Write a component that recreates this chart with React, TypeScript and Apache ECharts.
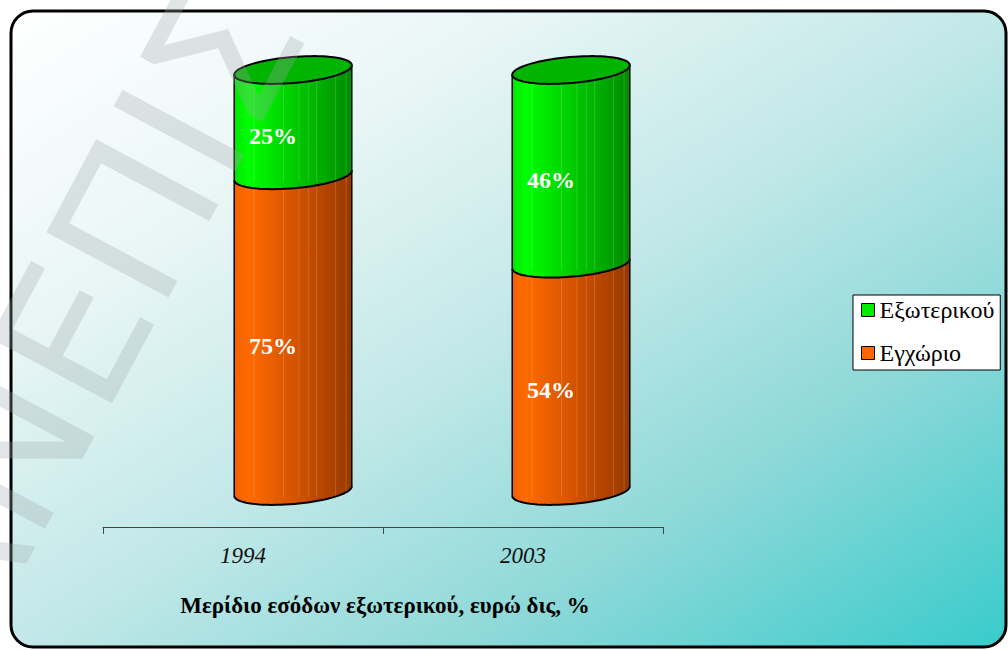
import React, { useEffect, useRef } from "react";
import * as echarts from "echarts";

const categories = ["1994", "2003"];
const foreignShare = [25, 46]; // Εξωτερικού
const domesticShare = [75, 54]; // Εγχώριο
const seriesNames = ["Εξωτερικού", "Εγχώριο"];
const chartTitle = "Μερίδιο εσόδων εξωτερικού, ευρώ δις, %";
const watermark = "ΠΑΝΕΠΙΣΤΗΜΙΟ";

const SERIF = "'Liberation Serif', 'Times New Roman', serif";

function makeRender(isTop: boolean, stops: any[], capColor: string) {
  return (params: any, api: any) => {
    const idx = api.value(0);
    const s = api.value(1);
    const e = api.value(2);
    const [cx, yb] = api.coord([idx, s]);
    const [, yt] = api.coord([idx, e]);
    const rx = 59;
    const ry = 13;
    const phi = 0.085;
    const pt = (cy: number, t: number) => [
      cx + rx * Math.cos(t) * Math.cos(phi) + ry * Math.sin(t) * Math.sin(phi),
      cy - rx * Math.cos(t) * Math.sin(phi) + ry * Math.sin(t) * Math.cos(phi),
    ];
    const N = 40;
    const upperTop: number[][] = [];
    for (let i = 0; i <= N; i++) upperTop.push(pt(yt, Math.PI + (Math.PI * i) / N));
    const lowerBot: number[][] = [];
    for (let i = 0; i <= N; i++) lowerBot.push(pt(yb, (Math.PI * i) / N));
    const body = upperTop.concat(lowerBot);
    const children: any[] = [];
    children.push({
      type: "polygon",
      shape: { points: body },
      style: { fill: new echarts.graphic.LinearGradient(0, 0, 1, 0, stops), stroke: "none" },
    });
    const facets = [0.17, 0.42, 0.55, 0.63, 0.7, 0.86, 0.95];
    facets.forEach((f) => {
      const x = cx - rx + 2 * rx * f;
      children.push({
        type: "line",
        shape: { x1: x, y1: yt + 2, x2: x, y2: yb + 6 },
        style: { stroke: "rgba(255,255,255,0.16)", lineWidth: 1 },
      });
    });
    const lt = pt(yt, Math.PI);
    const lb = pt(yb, Math.PI);
    const rt = pt(yt, 0);
    const rb = pt(yb, 0);
    children.push({
      type: "polyline",
      shape: { points: [lt, lb] },
      style: { stroke: "#000", lineWidth: 1.5, fill: "none" },
    });
    children.push({
      type: "polyline",
      shape: { points: [rt, rb] },
      style: { stroke: "#000", lineWidth: 1.5, fill: "none" },
    });
    children.push({
      type: "polyline",
      shape: { points: lowerBot },
      style: { stroke: "#000", lineWidth: 2, fill: "none" },
    });
    if (isTop) {
      const cap: number[][] = [];
      for (let i = 0; i < 2 * N; i++) cap.push(pt(yt, (2 * Math.PI * i) / (2 * N)));
      children.push({
        type: "polygon",
        shape: { points: cap },
        style: { fill: capColor, stroke: "#000", lineWidth: 2 },
      });
    }
    children.push({
      type: "text",
      x: cx - 20,
      y: (yt + yb) / 2 + 13,
      style: {
        text: Math.round(e - s) + "%",
        fill: "#ffffff",
        font: "bold 24px " + SERIF,
        textAlign: "center",
        textVerticalAlign: "middle",
      },
    });
    return { type: "group", children };
  };
}

export default function App() {
  const ref = useRef<HTMLDivElement>(null);
  useEffect(() => {
    if (!ref.current) return;
    const chart = echarts.init(ref.current, null, { renderer: "svg" });
    const domesticData = categories.map((_, i) => [i, 0, domesticShare[i]]);
    const foreignData = categories.map((_, i) => [
      i,
      domesticShare[i],
      domesticShare[i] + foreignShare[i],
    ]);
    const orangeStops = [
      { offset: 0, color: "#f26200" },
      { offset: 0.12, color: "#ff6a00" },
      { offset: 0.5, color: "#d65400" },
      { offset: 1, color: "#973800" },
    ];
    const greenStops = [
      { offset: 0, color: "#00e600" },
      { offset: 0.12, color: "#00ff00" },
      { offset: 0.5, color: "#00cc00" },
      { offset: 1, color: "#008c00" },
    ];
    chart.setOption({
      animation: false,
      backgroundColor: "#ffffff",
      graphic: [
        {
          type: "rect",
          z: -10,
          silent: true,
          shape: { x: 11, y: 11, width: 995, height: 636, r: 22 },
          style: {
            fill: new echarts.graphic.LinearGradient(
              11,
              11,
              588,
              914,
              [
                { offset: 0, color: "#ffffff" },
                { offset: 0.25, color: "#eaf6f6" },
                { offset: 0.5, color: "#c2e8e8" },
                { offset: 0.74, color: "#8cd8d8" },
                { offset: 1, color: "#38cbcb" },
              ],
              true
            ),
            stroke: "#000000",
            lineWidth: 3,
          },
        },
        {
          type: "text",
          z: 10,
          x: 385,
          y: 605,
          style: {
            text: chartTitle,
            font: "bold 23px " + SERIF,
            fill: "#000000",
            textAlign: "center",
            textVerticalAlign: "middle",
          },
        },
        {
          type: "text",
          z: 100,
          silent: true,
          x: -150,
          y: 755,
          rotation: 1.08,
          style: {
            text: watermark,
            font: "190px 'DejaVu Sans', sans-serif",
            fill: "rgba(160,168,168,0.3)",
            textAlign: "left",
            textVerticalAlign: "middle",
          },
        },
      ],
      legend: {
        orient: "vertical",
        left: 853,
        top: 295,
        icon: "rect",
        itemWidth: 13,
        itemHeight: 13,
        itemGap: 19,
        padding: [3, 6, 5, 8],
        backgroundColor: "#ffffff",
        borderColor: "#000000",
        borderWidth: 1,
        borderRadius: 0,
        textStyle: { fontFamily: SERIF, fontSize: 24, color: "#000000" },
        data: [
          { name: seriesNames[0], itemStyle: { color: "#00ee00", borderColor: "#000", borderWidth: 1 } },
          { name: seriesNames[1], itemStyle: { color: "#ff6600", borderColor: "#000", borderWidth: 1 } },
        ],
      },
      grid: [
        { left: 103, right: 345, top: 70, bottom: 123 },
        { left: 154, right: 298, top: 70, bottom: 159 },
      ],
      xAxis: [
        {
          type: "category",
          gridIndex: 0,
          data: categories,
          boundaryGap: true,
          axisLine: { show: true, lineStyle: { color: "#444444", width: 1 } },
          axisTick: { show: true, length: 7, lineStyle: { color: "#444444" } },
          axisLabel: {
            margin: 17,
            fontFamily: SERIF,
            fontStyle: "italic",
            fontSize: 23,
            color: "#111111",
          },
        },
        {
          type: "category",
          gridIndex: 1,
          data: categories,
          show: false,
        },
      ],
      yAxis: [
        { type: "value", gridIndex: 0, show: false, min: 0, max: 100 },
        { type: "value", gridIndex: 1, show: false, min: 0, max: 100 },
      ],
      series: [
        {
          name: seriesNames[1],
          type: "custom",
          xAxisIndex: 1,
          yAxisIndex: 1,
          itemStyle: { color: "#ff6600" },
          renderItem: makeRender(false, orangeStops, "#c04c00"),
          data: domesticData,
          z: 2,
        },
        {
          name: seriesNames[0],
          type: "custom",
          xAxisIndex: 1,
          yAxisIndex: 1,
          itemStyle: { color: "#00ee00" },
          renderItem: makeRender(true, greenStops, "#00b400"),
          data: foreignData,
          z: 3,
        },
      ],
    });
    return () => chart.dispose();
  }, []);
  return (
    <div
      ref={ref}
      style={{ position: "fixed", left: 0, top: 0, width: 1008, height: 650 }}
    />
  );
}
